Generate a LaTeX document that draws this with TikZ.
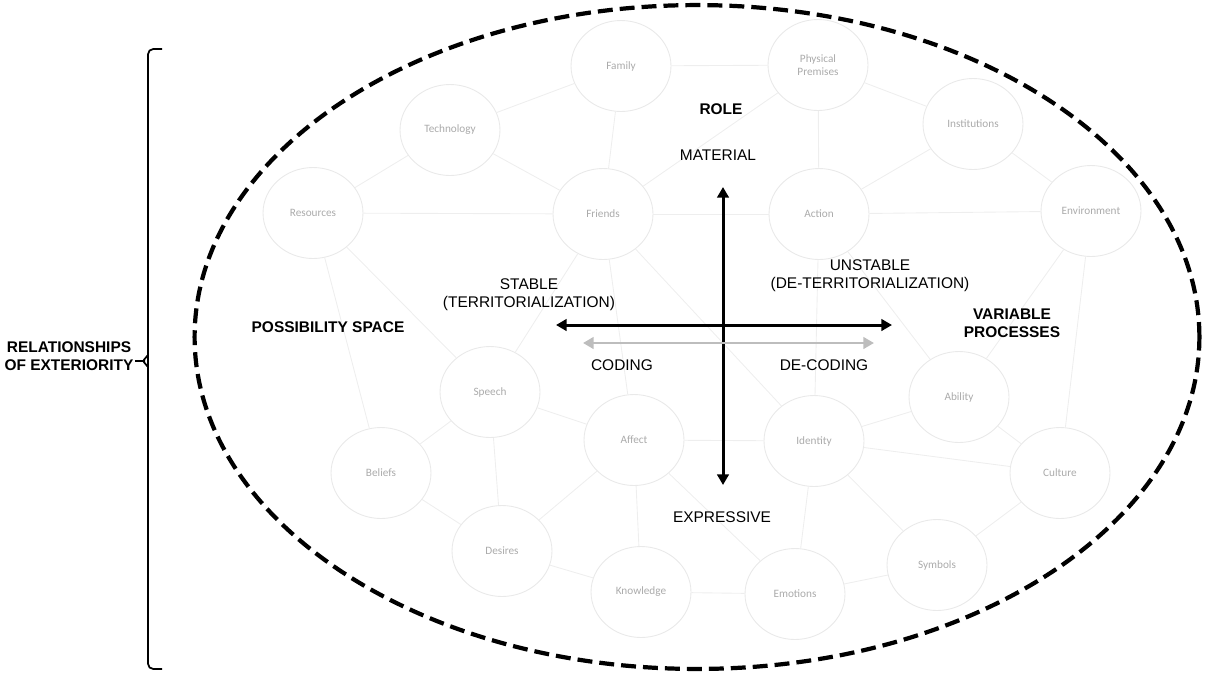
\documentclass[tikz,border=0pt]{standalone}
\usepackage{fontspec}
\setmainfont{Liberation Sans}
\newfontfamily\bubfont{Carlito}
\usetikzlibrary{shapes.geometric,arrows.meta,positioning}
\definecolor{bubline}{HTML}{E9E9E9}
\definecolor{bubtext}{HTML}{ABABAB}
\definecolor{linkcol}{HTML}{EEEEEE}
\definecolor{codegray}{HTML}{BDBDBD}

\begin{document}
\begin{tikzpicture}[x=0.02cm, y=-0.02cm,
  every node/.style={font=\fontsize{8.8}{10.3}\selectfont, inner sep=0pt},
  bub/.style={ellipse, draw=bubline, line width=0.5pt, fill=white,
              minimum width=2cm, minimum height=1.82cm, align=center,
              font=\bubfont\fontsize{6.4}{7.6}\selectfont, text=bubtext},
  lnk/.style={draw=linkcol, line width=0.5pt},
  hd/.style ={font=\fontsize{8.8}{10.3}\selectfont\bfseries, align=center},
  lbl/.style={align=center},
  ax/.style ={line width=1.7pt, {Triangle[length=6pt,width=6.5pt]}-{Triangle[length=6pt,width=6.5pt]}},
  cd/.style ={ax, draw=codegray, line width=1.5pt},
  bound/.style={line width=2.4pt, dash pattern=on 8.5pt off 4pt},
  brk/.style={line width=1pt}
]
\useasboundingbox (0,0) rectangle (1211,674);

%% bubbles
\node[bub] (fam) at (621,66)  {Family};
\node[bub] (pp)  at (818,65)  {Physical\\Premises};
\node[bub] (tec) at (450,130) {Technology};
\node[bub] (ins) at (973,124) {Institutions};
\node[bub] (res) at (313,213) {Resources};
\node[bub] (fri) at (603,214) {Friends};
\node[bub] (act) at (819,214) {Action};
\node[bub] (env) at (1091,211){Environment};
\node[bub] (spe) at (490,392) {Speech};
\node[bub] (abi) at (959,397) {Ability};
\node[bub] (bel) at (381,473) {Beliefs};
\node[bub] (aff) at (634,440) {Affect};
\node[bub] (ide) at (814,441) {Identity};
\node[bub] (cul) at (1060,473){Culture};
\node[bub] (des) at (502,551) {Desires};
\node[bub] (sym) at (937,565) {Symbols};
\node[bub] (kno) at (641,592) {Knowledge};
\node[bub] (emo) at (795,594) {Emotions};

%% links between bubbles
\foreach \a/\b in {fam/tec,fam/fri,fam/pp,tec/res,tec/fri,res/fri,res/bel,res/spe,
                   fri/pp,fri/act,fri/aff,fri/ide,fri/spe,pp/ins,pp/act,ins/act,
                   ins/env,act/env,act/ide,act/abi,env/abi,env/cul,spe/bel,spe/des,
                   spe/aff,bel/des,des/aff,des/kno,aff/kno,aff/emo,aff/ide,kno/emo,
                   ide/emo,ide/abi,ide/cul,ide/sym,abi/cul,cul/sym,emo/sym}
  \draw[lnk] (\a)--(\b);

%% axes
\coordinate (axN) at (723,187);
\coordinate (axS) at (723,485);
\coordinate (axW) at (556,325);
\coordinate (axE) at (892,325);
\coordinate (cdW) at (583,343);
\coordinate (cdE) at (874,343);
\draw[ax] (axN) -- (axS);
\draw[ax] (axW) -- (axE);
\draw[cd] (cdW) -- (cdE);

%% axis labels
\node[hd]  (role) at (721,109) {ROLE};
\node[lbl] (mat)  at (718,155) {MATERIAL};
\node[lbl] (expr) at (722,517) {EXPRESSIVE};
\node[lbl] (stab) at (529,295) {STABLE\\(TERRITORIALIZATION)};
\node[lbl] (unst) at (870,276) {UNSTABLE\\(DE-TERRITORIALIZATION)};
\node[lbl] (cod)  at (622,365) {CODING};
\node[lbl] (dec)  at (824,365) {DE-CODING};
\node[hd]  (poss) at (328,327) {POSSIBILITY SPACE};
\node[hd]  (var)  at (1012,323){VARIABLE\\PROCESSES};

%% outer boundary
\draw[bound] (697,337) ellipse [x radius=10.05cm, y radius=6.64cm];

%% bracket with its label
\node[hd] (rel) at (69,356) {RELATIONSHIPS\\OF EXTERIORITY};
\coordinate (tip) at (135,361);
\draw[brk, rounded corners=3pt] (162,49) -- (148,49) -- (148,669) -- (162,669);
\draw[brk, rounded corners=1pt] (148,355) -- (143,361) -- (148,367);
\draw[brk] (143,361) -- (tip);
\end{tikzpicture}
\end{document}
